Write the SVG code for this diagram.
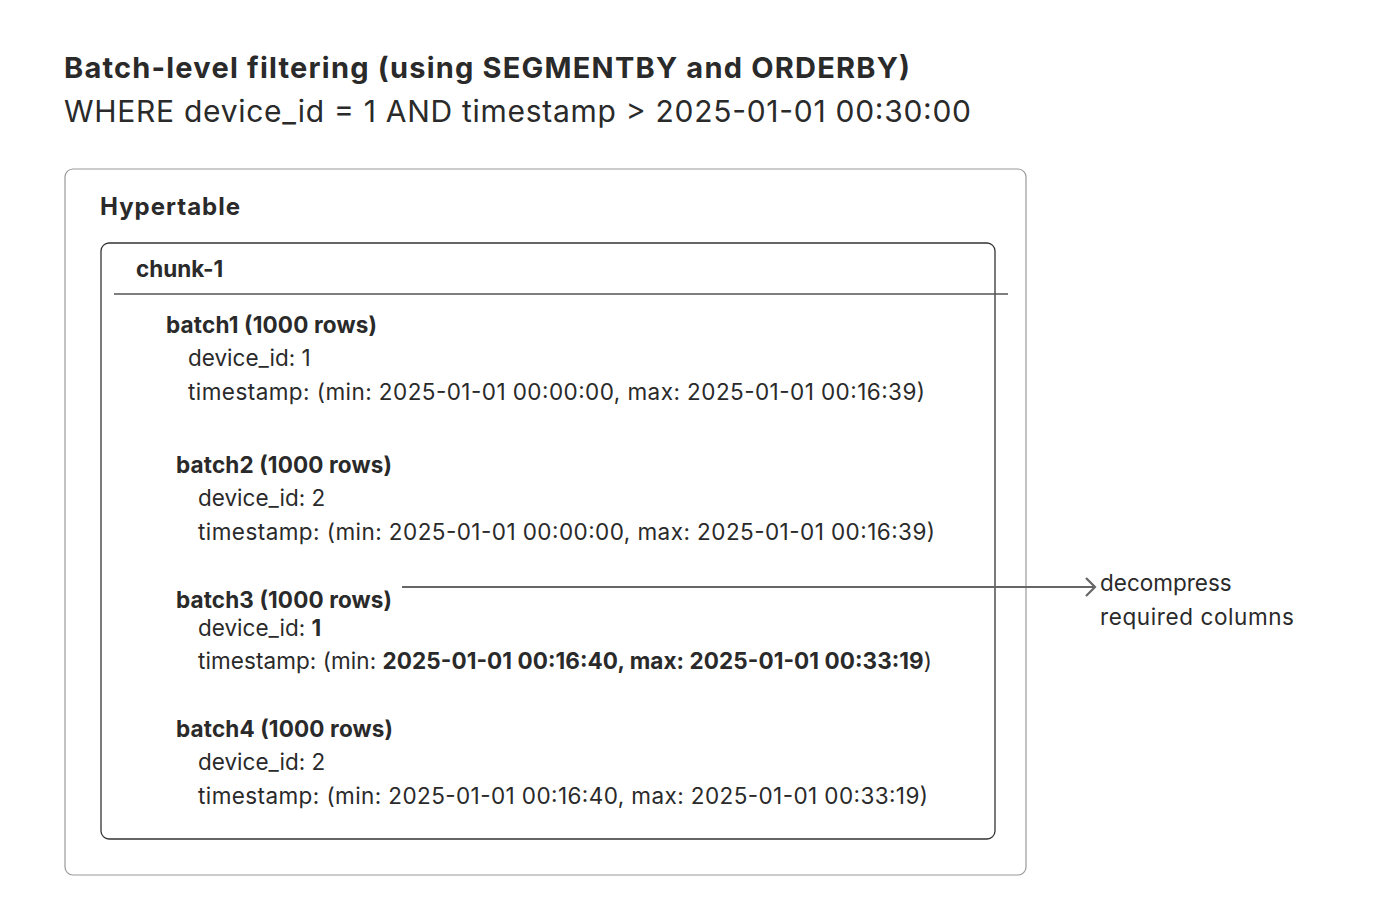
<svg xmlns="http://www.w3.org/2000/svg" width="1380" height="923" viewBox="0 0 1380 923">
<style>
text{font-family:Inter,"Liberation Sans",sans-serif;fill:#2a2a2a}
.b{font-weight:700}
.t{font-size:22.5px}
</style>
<defs><marker id="ah" markerWidth="20" markerHeight="24" refX="14" refY="12" orient="auto" markerUnits="userSpaceOnUse"><path d="M5,3 L14,12 L5,21" fill="none" stroke="#666" stroke-width="2.2"/></marker></defs>
<rect width="1380" height="923" fill="#fff"/>
<text x="64" y="78" class="b" font-size="29" textLength="846" lengthAdjust="spacing">Batch-level filtering (using SEGMENTBY and ORDERBY)</text>
<text x="64" y="122" font-size="30" textLength="907" lengthAdjust="spacing">WHERE device_id = 1 AND timestamp &gt; 2025-01-01 00:30:00</text>
<g id="hypertable"><rect x="65" y="169" width="961" height="706" rx="8" fill="none" stroke="#999" stroke-width="1.2"/>
<text x="100" y="215" class="b" font-size="24" textLength="140" lengthAdjust="spacing">Hypertable</text></g>
<g id="chunk1"><rect x="101" y="243" width="894" height="596" rx="8" fill="none" stroke="#333" stroke-width="1.3"/>
<text x="136" y="277" class="b t">chunk-1</text>
<line x1="114" y1="294" x2="1008" y2="294" stroke="#555" stroke-width="1.3"/></g>
<g id="batch1"><text x="166" y="333" class="b t" textLength="211" lengthAdjust="spacing">batch1 (1000 rows)</text>
<text x="188" y="366" class="t">device_id: 1</text>
<text x="188" y="400" class="t" textLength="737" lengthAdjust="spacing">timestamp: (min: 2025-01-01 00:00:00, max: 2025-01-01 00:16:39)</text></g>
<g id="batch2"><text x="176" y="473" class="b t" textLength="216" lengthAdjust="spacing">batch2 (1000 rows)</text>
<text x="198" y="506" class="t">device_id: 2</text>
<text x="198" y="540" class="t" textLength="737" lengthAdjust="spacing">timestamp: (min: 2025-01-01 00:00:00, max: 2025-01-01 00:16:39)</text></g>
<g id="batch3"><text x="176" y="608" class="b t" textLength="216" lengthAdjust="spacing">batch3 (1000 rows)</text>
<text x="198" y="636" class="t">device_id: <tspan class="b">1</tspan></text>
<text x="198" y="669" class="t" textLength="734" lengthAdjust="spacing">timestamp: (min: <tspan class="b">2025-01-01 00:16:40, max: 2025-01-01 00:33:19</tspan>)</text></g>
<g id="batch4"><text x="176" y="737" class="b t" textLength="217" lengthAdjust="spacing">batch4 (1000 rows)</text>
<text x="198" y="770" class="t">device_id: 2</text>
<text x="198" y="804" class="t" textLength="730" lengthAdjust="spacing">timestamp: (min: 2025-01-01 00:16:40, max: 2025-01-01 00:33:19)</text></g>
<g id="connectors"><line x1="402" y1="587" x2="1095" y2="587" stroke="#666" stroke-width="2" marker-end="url(#ah)"/></g>
<g id="decompress"><text x="1100" y="591" class="t">decompress</text>
<text x="1100" y="625" class="t" textLength="194" lengthAdjust="spacing">required columns</text></g>
</svg>
